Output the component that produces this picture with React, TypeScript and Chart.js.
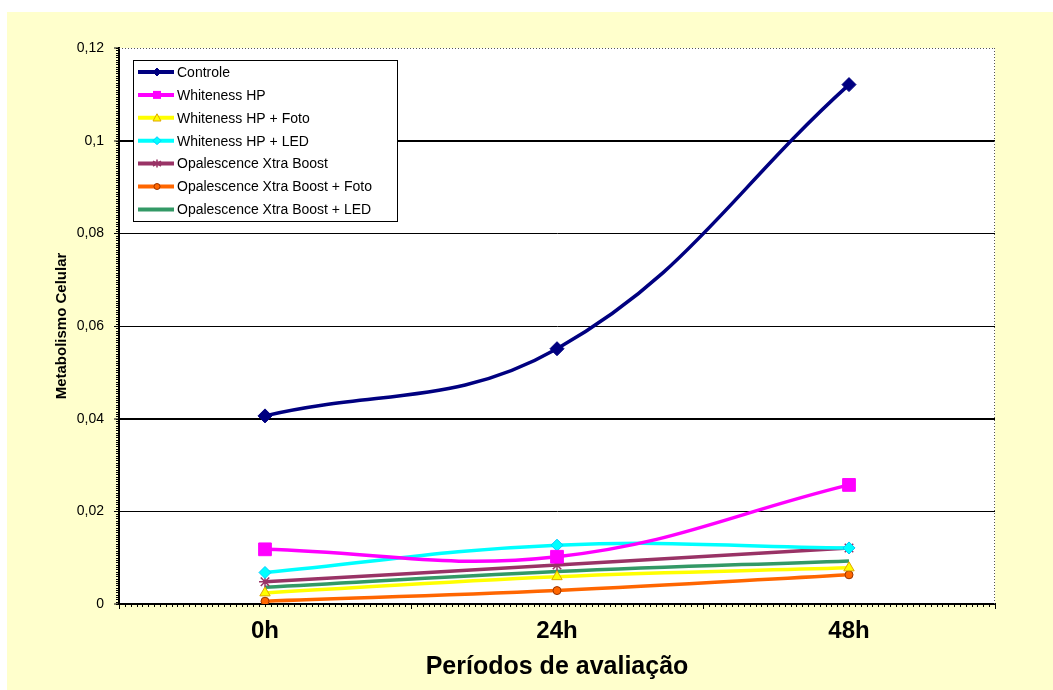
import React, { useEffect, useRef } from 'react';
import { Chart, registerables } from 'chart.js';

Chart.register(...registerables);

// ---- data ----
const categories = ['0h', '24h', '48h'];
const yTickLabels = ['0', '0,02', '0,04', '0,06', '0,08', '0,1', '0,12'];
const seriesNames = [
  'Controle',
  'Whiteness HP',
  'Whiteness HP + Foto',
  'Whiteness HP + LED',
  'Opalescence Xtra Boost',
  'Opalescence Xtra Boost + Foto',
  'Opalescence Xtra Boost + LED',
];
const controle = [0.0406, 0.0551, 0.1121];
const whitenessHP = [0.0118, 0.0102, 0.0257];
const whitenessHPFoto = [0.0024, 0.0059, 0.0078];
const whitenessHPLED = [0.0068, 0.0127, 0.0121];
const opalescence = [0.0048, 0.0084, 0.0121];
const opalescenceFoto = [0.0006, 0.0029, 0.0063];
const opalescenceLED = [0.0036, 0.007, 0.0093];

const FONT = '"Liberation Sans", Arial, Helvetica, sans-serif';

type Marker = 'diamond' | 'square' | 'triangle' | 'star' | 'circle' | 'none';

function drawMarker(
  ctx: CanvasRenderingContext2D,
  kind: Marker,
  x: number,
  y: number,
  r: number,
  fill: string,
  stroke: string
) {
  if (kind === 'none') return;
  ctx.save();
  ctx.setLineDash([]);
  ctx.fillStyle = fill;
  ctx.strokeStyle = stroke;
  ctx.lineWidth = 1;
  ctx.beginPath();
  if (kind === 'diamond') {
    ctx.moveTo(x, y - r);
    ctx.lineTo(x + r, y);
    ctx.lineTo(x, y + r);
    ctx.lineTo(x - r, y);
    ctx.closePath();
    ctx.fill();
    ctx.stroke();
  } else if (kind === 'square') {
    ctx.rect(x - r, y - r, 2 * r, 2 * r);
    ctx.fill();
  } else if (kind === 'triangle') {
    ctx.moveTo(x, y - r);
    ctx.lineTo(x + r, y + r * 0.8);
    ctx.lineTo(x - r, y + r * 0.8);
    ctx.closePath();
    ctx.fill();
    ctx.stroke();
  } else if (kind === 'circle') {
    ctx.arc(x, y, r, 0, Math.PI * 2);
    ctx.fill();
    ctx.stroke();
  } else if (kind === 'star') {
    ctx.lineWidth = 1.5;
    ctx.moveTo(x, y - r);
    ctx.lineTo(x, y + r);
    ctx.moveTo(x - r, y - r * 0.6);
    ctx.lineTo(x + r, y + r * 0.6);
    ctx.moveTo(x - r, y + r * 0.6);
    ctx.lineTo(x + r, y - r * 0.6);
    ctx.stroke();
  }
  ctx.restore();
}

export default function App() {
  const ref = useRef<HTMLCanvasElement>(null);

  useEffect(() => {
    const canvas = ref.current;
    if (!canvas) return;

    const seriesValues = [
      controle,
      whitenessHP,
      whitenessHPFoto,
      whitenessHPLED,
      opalescence,
      opalescenceFoto,
      opalescenceLED,
    ];
    const colors = ['#000080', '#FF00FF', '#FFFF00', '#00FFFF', '#993366', '#FF6600', '#339966'];
    const pointStyles: any[] = ['rectRot', 'rect', 'triangle', 'rectRot', 'star', 'circle', 'circle'];
    const pointRadii = [7, 9, 6, 6, 6, 4, 0];
    const pointBorders = ['#000080', '#FF00FF', '#E0A800', '#00CCFF', '#993366', '#993300', '#339966'];
    const legendMarkers: Marker[] = ['diamond', 'square', 'triangle', 'diamond', 'star', 'circle', 'none'];
    const legendRadii = [4, 4, 4, 4, 4, 3, 0];
    const gridWidths = [0, 1, 2, 1, 1, 2, 0];

    const datasets = seriesValues.map((vals, i) => ({
      label: seriesNames[i],
      data: vals,
      borderColor: colors[i],
      backgroundColor: colors[i],
      borderWidth: 3.5,
      tension: 0.4,
      pointStyle: pointStyles[i],
      pointRadius: pointRadii[i],
      pointBorderColor: pointBorders[i],
      pointBackgroundColor: colors[i],
      pointBorderWidth: i === 4 ? 1.5 : 1,
      fill: false,
    }));

    const bgPlugin = {
      id: 'plotBg',
      beforeDraw(chart: any) {
        const { ctx, chartArea } = chart;
        ctx.save();
        ctx.fillStyle = '#FFFFFF';
        ctx.fillRect(chartArea.left, chartArea.top, chartArea.right - chartArea.left, chartArea.bottom - chartArea.top);
        ctx.restore();
      },
    };

    const decoPlugin = {
      id: 'deco',
      afterDraw(chart: any) {
        const { ctx, chartArea, scales } = chart;
        const { left, right, top, bottom } = chartArea;
        ctx.save();
        // dotted top & right borders
        ctx.strokeStyle = '#555555';
        ctx.lineWidth = 1;
        ctx.setLineDash([1, 2]);
        ctx.beginPath();
        ctx.moveTo(left, top + 0.5);
        ctx.lineTo(right, top + 0.5);
        ctx.moveTo(right - 0.5, top);
        ctx.lineTo(right - 0.5, bottom);
        ctx.stroke();
        ctx.setLineDash([]);
        // minor ticks on y axis
        ctx.strokeStyle = '#000000';
        ctx.beginPath();
        const yScale = scales.y;
        for (let k = 0; k <= 240; k++) {
          const py = Math.round(yScale.getPixelForValue((0.12 * k) / 240)) + 0.5;
          ctx.moveTo(left - 3, py);
          ctx.lineTo(left, py);
        }
        // minor ticks on x axis
        const n = 150;
        for (let k = 0; k <= n; k++) {
          const px = Math.round(left + ((right - left) * k) / n) + 0.5;
          ctx.moveTo(px, bottom);
          ctx.lineTo(px, bottom + 3);
        }
        ctx.stroke();

        // legend
        const bx = 126, by = 48, bw = 264, bh = 161;
        ctx.fillStyle = '#FFFFFF';
        ctx.fillRect(bx, by, bw, bh);
        ctx.strokeStyle = '#000000';
        ctx.lineWidth = 1;
        ctx.strokeRect(bx + 0.5, by + 0.5, bw, bh);
        ctx.font = '14px ' + FONT;
        ctx.textBaseline = 'middle';
        ctx.textAlign = 'left';
        chart.data.datasets.forEach((ds: any, i: number) => {
          const y = by + 12 + i * 22.9;
          ctx.strokeStyle = ds.borderColor;
          ctx.lineWidth = 4;
          ctx.beginPath();
          ctx.moveTo(bx + 5, y);
          ctx.lineTo(bx + 41, y);
          ctx.stroke();
          drawMarker(ctx, legendMarkers[i], bx + 24, y, legendRadii[i], colors[i], pointBorders[i]);
          ctx.fillStyle = '#000000';
          ctx.fillText(ds.label, bx + 44, y + 1);
        });
        ctx.restore();
      },
    };

    const chart = new Chart(canvas, {
      type: 'line',
      data: { labels: categories, datasets },
      plugins: [bgPlugin, decoPlugin],
      options: {
        responsive: false,
        animation: false,
        maintainAspectRatio: false,
        layout: { padding: { top: 36, right: 58, left: 0, bottom: 0 } },
        plugins: {
          legend: { display: false },
          tooltip: { enabled: false },
          title: { display: false },
        },
        scales: {
          x: {
            type: 'category',
            offset: true,
            afterFit: (s: any) => {
              s.height = 86;
            },
            grid: {
              display: true,
              offset: true,
              drawOnChartArea: false,
              drawTicks: true,
              tickLength: 5,
              color: '#000000',
              tickColor: '#000000',
              tickWidth: 1,
            },
            border: { display: true, color: '#000000', width: 2 },
            ticks: {
              color: '#000000',
              padding: 8,
              font: { family: FONT, size: 24, weight: 'bold' },
            },
            title: {
              display: true,
              text: 'Períodos de avaliação',
              color: '#000000',
              font: { family: FONT, size: 25, weight: 'bold' },
              padding: { top: 0, bottom: 8 },
            },
          },
          y: {
            min: 0,
            max: 0.12,
            afterFit: (s: any) => {
              s.width = 112;
            },
            grid: {
              color: '#000000',
              lineWidth: (c: any) => gridWidths[c.index] ?? 1,
              drawTicks: true,
              tickLength: 5,
              tickColor: '#000000',
              tickWidth: 1,
            },
            border: { display: true, color: '#000000', width: 2 },
            ticks: {
              stepSize: 0.02,
              color: '#000000',
              padding: 10,
              font: { family: FONT, size: 14 },
              callback: (_v: any, idx: number) => yTickLabels[idx],
            },
            title: {
              display: true,
              text: 'Metabolismo Celular',
              color: '#000000',
              font: { family: FONT, size: 15, weight: 'bold' },
              padding: { top: 46, bottom: 0 },
            },
          },
        },
      } as any,
    });

    return () => chart.destroy();
  }, []);

  return (
    <div style={{ position: 'fixed', left: 0, top: 0, width: 1053, height: 690, background: '#FFFFFF', overflow: 'hidden' }}>
      <div style={{ position: 'absolute', left: 7, top: 12, width: 1046, height: 678, background: '#FFFFCC' }}>
        <canvas ref={ref} width={1046} height={678} style={{ display: 'block', width: 1046, height: 678 }} />
      </div>
    </div>
  );
}
